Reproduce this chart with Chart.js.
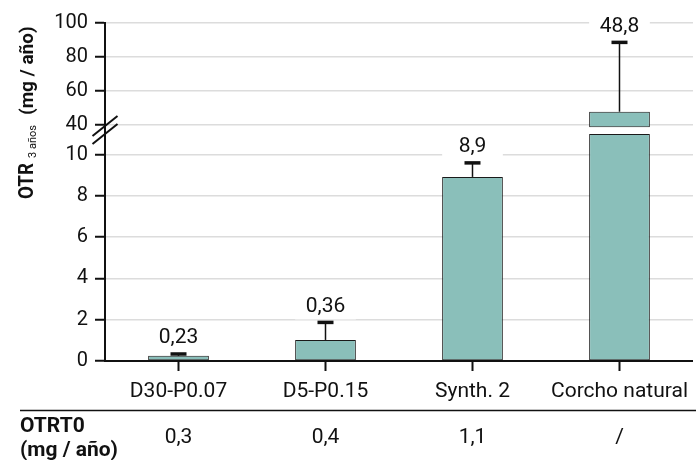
<!DOCTYPE html>
<html lang="es">
<head>
<meta charset="UTF-8">
<title>OTR 3 años</title>
<script src="https://cdn.jsdelivr.net/npm/chart.js"></script>
<style>
  html, body { margin: 0; padding: 0; background: #fff; }
  #wrap { width: 696px; height: 460px; position: relative; }
</style>
</head>
<body>
<div id="wrap"><canvas id="otrChart"></canvas></div>
<script>
// data
const categories = ['D30-P0.07', 'D5-P0.15', 'Synth. 2', 'Corcho natural'];
const barValues = [0.25, 1.02, 8.92, 47.8];     // bar heights as drawn
const errorTops = [0.34, 1.87, 9.6, 88.6];      // top of error whiskers
const valueLabels = ['0,23', '0,36', '8,9', '48,8'];
const otrT0 = ['0,3', '0,4', '1,1', '/'];
const lowTicks = [0, 2, 4, 6, 8, 10];
const highTicks = [40, 60, 80, 100];
const lowMax = 11;        // top of lower axis segment
const highMin = 34.7;     // bottom of upper axis segment
const highStart = 38.6;   // where the broken bar resumes

const FONT = 'Roboto, "Liberation Sans", sans-serif';
const INK = '#111';
const BAR = '#8abfba';

const lowData = barValues.map(v => Math.min(v, lowMax));
const highData = barValues.map(v => v > lowMax ? [highStart, v] : null);

function axisFor(chart, i) {
  return barValues[i] > lowMax ? chart.scales.y2 : chart.scales.y;
}

const extras = {
  id: 'extras',
  beforeDatasetsDraw(chart) {
    // white boxes behind value labels, hiding grid lines
    const ctx = chart.ctx;
    const meta = chart.getDatasetMeta(0);
    ctx.save();
    ctx.fillStyle = '#fff';
    categories.forEach((c, i) => {
      const x = chart.scales.x.getPixelForValue(i);
      const w = meta.data[i].width;
      const yErr = axisFor(chart, i).getPixelForValue(errorTops[i]);
      const ly = yErr - 16;
      ctx.fillRect(x - w / 2, ly - 12, w, 25);
    });
    ctx.restore();
  },
  afterDatasetsDraw(chart) {
    const ctx = chart.ctx;
    ctx.save();
    categories.forEach((c, i) => {
      const axis = axisFor(chart, i);
      const x = chart.scales.x.getPixelForValue(i);
      const yBar = axis.getPixelForValue(barValues[i]);
      const yErr = axis.getPixelForValue(errorTops[i]);
      ctx.strokeStyle = INK;
      ctx.lineWidth = 1.5;
      ctx.beginPath();
      ctx.moveTo(x, yBar);
      ctx.lineTo(x, yErr);
      ctx.stroke();
      ctx.lineWidth = 3.5;
      ctx.beginPath();
      ctx.moveTo(x - 8, yErr);
      ctx.lineTo(x + 8, yErr);
      ctx.stroke();
      ctx.fillStyle = INK;
      ctx.font = '21px ' + FONT;
      ctx.textAlign = 'center';
      ctx.textBaseline = 'middle';
      ctx.fillText(valueLabels[i], x, yErr - 16);
    });
    ctx.restore();
  },
  afterDraw(chart) {
    const ctx = chart.ctx;
    const {y, y2, x} = chart.scales;
    ctx.save();
    // axis break marks
    const bx = y.right;
    const by = y2.bottom;
    ctx.strokeStyle = INK;
    ctx.lineWidth = 2;
    [-8, 0].forEach(d => {
      ctx.beginPath();
      ctx.moveTo(bx - 12.5, by + d + 10);
      ctx.lineTo(bx + 12.5, by + d - 10);
      ctx.stroke();
    });

    // y title, rotated (reads bottom to top)
    ctx.translate(28, 0);
    ctx.rotate(-Math.PI / 2);
    ctx.textBaseline = 'middle';
    ctx.textAlign = 'left';
    ctx.fillStyle = INK;
    ctx.font = 'bold 20px ' + FONT;
    ctx.fillText('OTR', -199, 0, 36);
    ctx.font = '11px ' + FONT;
    ctx.fillText('3 años', -158, 5, 33);
    ctx.font = 'bold 19px ' + FONT;
    ctx.fillText('(mg / año)', -115, 0, 102);
    ctx.restore();

    // OTRT0 row under the chart
    ctx.save();
    ctx.strokeStyle = INK;
    ctx.lineWidth = 1.5;
    ctx.beginPath();
    ctx.moveTo(20, 410.5);
    ctx.lineTo(chart.width, 410.5);
    ctx.stroke();
    ctx.fillStyle = INK;
    ctx.textBaseline = 'middle';
    ctx.textAlign = 'left';
    ctx.font = 'bold 21px ' + FONT;
    ctx.fillText('OTRT0', 20, 427);
    ctx.fillText('(mg / año)', 20, 451);
    ctx.textAlign = 'center';
    ctx.font = '21px ' + FONT;
    otrT0.forEach((t, i) => {
      ctx.fillText(t, x.getPixelForValue(i), 438);
    });
    ctx.restore();
  }
};

const yCommon = {
  position: 'left',
  stack: 'otr',
  grid: { color: '#dcdcdc', lineWidth: 1.5, tickColor: INK, tickLength: 10, tickWidth: 2 },
  border: { color: INK, width: 2 },
  ticks: { color: INK, font: { family: FONT, size: 20 }, padding: 7, autoSkip: false },
  afterFit: s => { s.width = 105; }
};

const ctx = document.getElementById('otrChart').getContext('2d');
const otrChart = new Chart(ctx, {
  type: 'bar',
  data: {
    labels: categories,
    datasets: [
      {
        label: 'OTR',
        data: lowData,
        yAxisID: 'y',
        backgroundColor: BAR,
        borderColor: '#1a1a1a',
        borderWidth: 1,
        borderSkipped: false,
        grouped: false,
        barPercentage: 0.413,
        categoryPercentage: 1
      },
      {
        label: 'OTR (tramo alto)',
        data: highData,
        yAxisID: 'y2',
        backgroundColor: BAR,
        borderColor: '#1a1a1a',
        borderWidth: 1,
        borderSkipped: false,
        grouped: false,
        barPercentage: 0.413,
        categoryPercentage: 1
      }
    ]
  },
  options: {
    responsive: true,
    maintainAspectRatio: false,
    animation: false,
    layout: { padding: { top: 23, right: 0, left: 0, bottom: 0 } },
    plugins: { legend: { display: false }, tooltip: { enabled: false } },
    scales: {
      x: {
        grid: { offset: false, drawOnChartArea: false, tickColor: INK, tickLength: 10, tickWidth: 2 },
        border: { color: INK, width: 2 },
        ticks: { color: INK, font: { family: FONT, size: 21 }, padding: 8, maxRotation: 0, autoSkip: false },
        afterFit: s => { s.height = 99; }
      },
      y: Object.assign({}, yCommon, {
        min: 0,
        max: lowMax,
        stackWeight: 227,
        afterBuildTicks: s => { s.ticks = lowTicks.map(v => ({ value: v })); }
      }),
      y2: Object.assign({}, yCommon, {
        min: highMin,
        max: 100,
        stackWeight: 111,
        afterBuildTicks: s => { s.ticks = highTicks.map(v => ({ value: v })); }
      })
    }
  },
  plugins: [extras]
});
</script>
</body>
</html>
